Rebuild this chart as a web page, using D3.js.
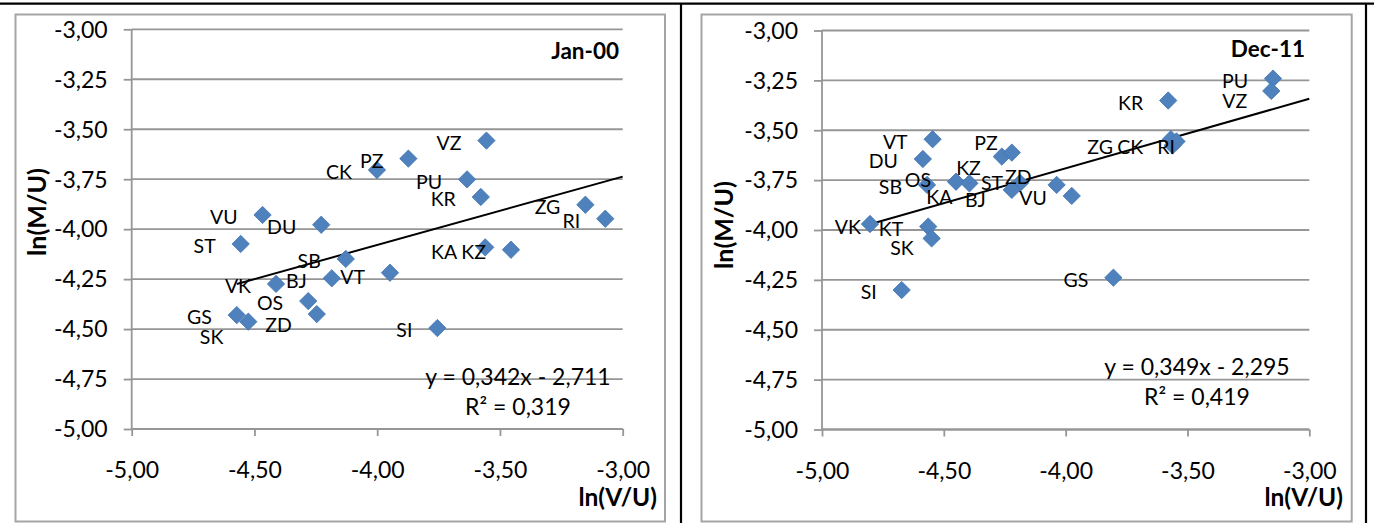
<!DOCTYPE html>
<html>
<head>
<meta charset="utf-8">
<script src="https://cdn.jsdelivr.net/npm/d3@7"></script>
<style>
    body { margin: 0; background: #fff; }
    svg { display: block; }
    text { font-family: Lato, "Noto Sans", sans-serif; fill: #000; }
</style>
</head>
<body>
<svg id="chart" width="1374" height="523"></svg>
<script>
const xTicks = [-5, -4.5, -4, -3.5, -3];
const yTicks = [-3, -3.25, -3.5, -3.75, -4, -4.25, -4.5, -4.75, -5];

// Jan-00 : ln(V/U) and ln(M/U) per region
const janCodes = ['VZ', 'PZ', 'CK', 'PU', 'KR', 'ZG', 'RI', 'VU', 'DU', 'ST', 'KA',
    'KZ', 'SB', 'VT', 'BJ', 'VK', 'OS', 'ZD', 'GS', 'SK', 'SI'];
const janX = [-3.555, -3.873, -4.001, -3.634, -3.578, -3.152, -3.071, -4.467, -4.228, -4.556, -3.560,
    -3.455, -4.128, -3.948, -4.185, -4.412, -4.281, -4.246, -4.572, -4.525, -3.755];
const janY = [-3.557, -3.647, -3.704, -3.751, -3.839, -3.878, -3.948, -3.929, -3.978, -4.074, -4.091,
    -4.103, -4.149, -4.218, -4.246, -4.274, -4.360, -4.425, -4.430, -4.463, -4.495];

// Dec-11
const decCodes = ['PU', 'VZ', 'KR', 'ZG', 'CK', 'RI', 'VT', 'DU', 'SB', 'OS', 'KA',
    'KZ', 'PZ', 'ST', 'BJ', 'ZD', 'VU', 'VK', 'KT', 'SK', 'SI', 'GS'];
const decX = [-3.149, -3.156, -3.579, -3.568, -3.561, -3.545, -4.546, -4.586, -4.569, -4.450, -4.395,
    -4.262, -4.221, -4.187, -4.221, -4.037, -3.975, -4.803, -4.564, -4.550, -4.673, -3.804];
const decY = [-3.241, -3.303, -3.351, -3.545, -3.576, -3.556, -3.545, -3.644, -3.774, -3.758, -3.766,
    -3.632, -3.612, -3.764, -3.799, -3.774, -3.829, -3.970, -3.983, -4.042, -4.301, -4.239];

const titles = ['Jan-00', 'Dec-11'];
const slopes = [0.342, 0.349];
const intercepts = [-2.711, -2.295];
const rSquared = [0.319, 0.419];

(() => {
    const svg = d3.select('#chart');
    const locale = d3.formatLocale({ decimal: ',', thousands: '.', grouping: [3], currency: ['', ''], minus: '-' });
    const fmt2 = locale.format('.2f');
    const fmt3 = locale.format('.3f');
    const diamond = d3.symbol(d3.symbolSquare, 150)();

    // frame lines of the surrounding table
    svg.append('line').attr('x1', 0).attr('x2', 1374).attr('y1', 3.7).attr('y2', 3.7)
        .attr('stroke', '#000').attr('stroke-width', 2.2);
    [681, 1366].forEach(x => {
        svg.append('line').attr('x1', x).attr('x2', x).attr('y1', 3).attr('y2', 523)
            .attr('stroke', '#000').attr('stroke-width', 2.2);
    });

    // hand-dragged data labels (pixel nudges from the default left position)
    const nudges = [
        { ZD: [0, 9], SK: [0, 13], KA: [-3, 2.5], VT: [0, 2] },
        { VZ: [1, 8], ZG: [-33, 5.5], CK: [-4.5, -1], RI: [23.5, 3], OS: [0, -4], KA: [8, 11],
          KZ: [4, 9], PZ: [11, -12], ST: [8, -2.5], BJ: [-1, 7.5], ZD: [0, -10.5], VK: [16, 1], SK: [7, 7.5] }
    ];

    const panels = [
        { frame: [15.5, 14.5, 665, 521.5], plot: [131.7, 622.7, 29.3, 429], yTitle: [46, 212],
          xTitle: [657, 505], title: [619, 59], eq: [518, 377],
          codes: janCodes, xs: janX, ys: janY },
        { frame: [701.5, 14.5, 1351.7, 521.5], plot: [822, 1309.3, 30.5, 429.5], yTitle: [733, 225],
          xTitle: [1343, 505], title: [1305, 57], eq: [1197, 367],
          codes: decCodes, xs: decX, ys: decY }
    ];

    panels.forEach((p, i) => drawPanel(p, i));

    function drawPanel(p, i) {
        const g = svg.append('g');
        const [left, right, top, bottom] = p.plot;
        const x = d3.scaleLinear().domain([-5, -3]).range([left, right]);
        const y = d3.scaleLinear().domain([-5, -3]).range([bottom, top]);

        g.append('rect')
            .attr('x', p.frame[0]).attr('y', p.frame[1])
            .attr('width', p.frame[2] - p.frame[0]).attr('height', p.frame[3] - p.frame[1])
            .attr('fill', 'none').attr('stroke', '#a5a5a5').attr('stroke-width', 2);

        // horizontal gridlines
        g.selectAll('.grid').data(yTicks).join('line')
            .attr('x1', left).attr('x2', right)
            .attr('y1', d => y(d)).attr('y2', d => y(d))
            .attr('stroke', '#969696').attr('stroke-width', 1.8);

        const yAxis = g.append('g').attr('transform', `translate(${left},0)`)
            .call(d3.axisLeft(y).tickValues(yTicks).tickFormat(fmt2).tickSize(8).tickPadding(16));
        const xAxis = g.append('g').attr('transform', `translate(0,${bottom})`)
            .call(d3.axisBottom(x).tickValues(xTicks).tickFormat(fmt2).tickSize(7).tickPadding(27));
        [yAxis, xAxis].forEach(a => {
            a.select('.domain').attr('stroke', '#969696').attr('stroke-width', 1.8);
            a.selectAll('.tick line').attr('stroke', '#969696').attr('stroke-width', 1.8);
            a.selectAll('.tick text').attr('font-size', 23).attr('font-family', 'Lato');
        });
        yAxis.select('.domain').attr('d', `M0,${top}V${bottom}`);
        xAxis.select('.domain').attr('d', `M${left},0H${right}`);
        yAxis.selectAll('.tick text').attr('dy', '0.34em');
        xAxis.selectAll('.tick text').attr('dy', '0.66em');

        // trendline, forecast to the right edge of the axis
        const x0 = d3.min(p.xs);
        const x1 = x.domain()[1];
        g.append('line')
            .attr('x1', x(x0)).attr('y1', y(slopes[i] * x0 + intercepts[i]))
            .attr('x2', x(x1)).attr('y2', y(slopes[i] * x1 + intercepts[i]))
            .attr('stroke', '#000').attr('stroke-width', 2);

        const pts = p.codes.map((c, k) => ({ code: c, vx: p.xs[k], vy: p.ys[k] }));

        g.selectAll('.pt').data(pts).join('path')
            .attr('d', diamond)
            .attr('transform', d => `translate(${x(d.vx)},${y(d.vy)}) rotate(45)`)
            .attr('fill', '#4f81bd').attr('stroke', '#4577b3').attr('stroke-width', 0.8);

        g.selectAll('.lbl').data(pts).join('text')
            .attr('x', d => x(d.vx) - 25 + (nudges[i][d.code] || [0, 0])[0])
            .attr('y', d => y(d.vy) + 2.5 + 6.9 + (nudges[i][d.code] || [0, 0])[1])
            .attr('text-anchor', 'end').attr('font-size', 19.5)
            .text(d => d.code);

        g.append('text')
            .attr('x', p.title[0]).attr('y', p.title[1])
            .attr('text-anchor', 'end').attr('font-size', 22.5).attr('font-weight', 'bold')
            .text(titles[i]);

        g.append('text')
            .attr('x', p.eq[0]).attr('y', p.eq[1] + 8)
            .attr('text-anchor', 'middle').attr('font-size', 23)
            .text(`y = ${fmt3(slopes[i])}x - ${fmt3(-intercepts[i])}`);
        g.append('text')
            .attr('x', p.eq[0]).attr('y', p.eq[1] + 38)
            .attr('text-anchor', 'middle').attr('font-size', 23)
            .text(`R² = ${fmt3(rSquared[i])}`);

        g.append('text')
            .attr('transform', `translate(${p.yTitle[0]},${p.yTitle[1]}) rotate(-90)`)
            .attr('text-anchor', 'middle').attr('font-size', 25).attr('font-weight', 'bold')
            .text('ln(M/U)');
        g.append('text')
            .attr('x', p.xTitle[0]).attr('y', p.xTitle[1] + 1)
            .attr('text-anchor', 'end').attr('font-size', 24.5).attr('font-weight', 'bold')
            .text('ln(V/U)');
    }
})();
</script>
</body>
</html>
